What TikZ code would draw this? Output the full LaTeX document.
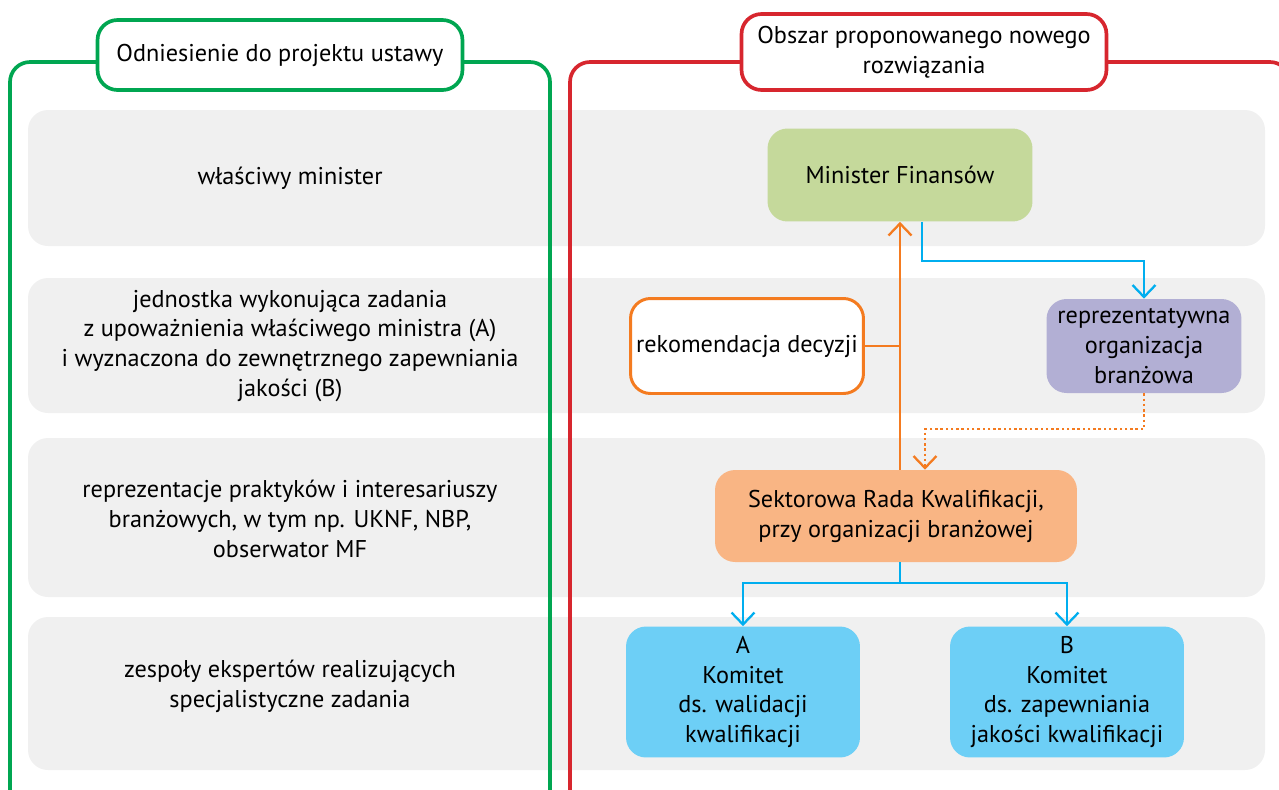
\documentclass[tikz,border=0pt]{standalone}
\usepackage{fontspec}
\setmainfont{PT Sans}
\usetikzlibrary{arrows.meta}
\definecolor{framegreen}{HTML}{00A651}
\definecolor{framered}{HTML}{D7262E}
\definecolor{bandgray}{HTML}{F0F0F0}
\definecolor{mfgreen}{HTML}{C5D99B}
\definecolor{recorange}{HTML}{F47B20}
\definecolor{orgviolet}{HTML}{B2AFD4}
\definecolor{srkorange}{HTML}{F9B584}
\definecolor{komblue}{HTML}{6DCFF6}
\definecolor{linkblue}{HTML}{00AEEF}
\begin{document}
\begin{tikzpicture}[x=0.02cm,y=-0.02cm,
  font=\fontsize{13.8pt}{17pt}\selectfont,
  band/.style={fill=bandgray, rounded corners=0.4cm},
  frame/.style={line width=2.1pt, rounded corners=0.4cm},
  titlebox/.style={fill=white, line width=2.1pt, rounded corners=0.4cm, align=center,
    minimum width=7.3cm},
  box/.style={rounded corners=0.4cm, align=center, inner sep=2pt},
  lbl/.style={align=center},
  link/.style={line width=1.3pt, -{Straight Barb[length=2.4mm,width=4.6mm,line width=1.3pt]}},
  plain/.style={line width=1.3pt}]
\clip (0,0) rectangle (1279,789);
% rows
\fill[band] (28,110) rectangle (1265,246);
\fill[band] (28,278) rectangle (1265,413);
\fill[band] (28,438) rectangle (1265,597);
\fill[band] (28,617) rectangle (1265,770);
% columns
\draw[frame, framegreen] (100,62) -- (10,62) -- (10,820);
\draw[frame, framegreen] (460,62) -- (550,62) -- (550,820);
\draw[frame, framered] (745,62) -- (570,62) -- (570,820);
\draw[frame, framered] (1105,62) -- (1290,62) -- (1290,820);
\node[titlebox, draw=framegreen, minimum height=1.4cm] (tleft) at (280,55)
  {Odniesienie do projektu ustawy};
\node[titlebox, draw=framered, minimum height=1.52cm] (tright) at (924,52)
  {Obszar proponowanego nowego\\rozwiązania};
% left column labels
\node[lbl] (l1) at (290,178) {właściwy minister};
\node[lbl] (l2) at (290,346) {jednostka wykonująca zadania\\z upoważnienia właściwego ministra (A)\\i wyznaczona do zewnętrznego zapewniania\\jakości (B)};
\node[lbl] (l3) at (290,519) {reprezentacje praktyków i interesariuszy\\branżowych, w tym np. UKNF, NBP,\\obserwator MF};
\node[lbl] (l4) at (290,686) {zespoły ekspertów realizujących\\specjalistyczne zadania};
% right column boxes
\node[box, fill=mfgreen, minimum width=5.3cm, minimum height=1.86cm] (mf) at (900,175) {Minister Finansów};
\node[box, draw=recorange, fill=white, line width=1.7pt, minimum width=4.66cm, minimum height=1.9cm] (rek) at (747,346) {rekomendacja decyzji};
\node[box, fill=orgviolet, minimum width=3.9cm, minimum height=1.88cm] (org) at (1144,346) {reprezentatywna\\organizacja\\branżowa};
\node[box, fill=srkorange, minimum width=7.24cm, minimum height=1.84cm] (srk) at (896,516) {Sektorowa Rada Kwalifikacji,\\przy organizacji branżowej};
\node[box, fill=komblue, minimum width=4.68cm, minimum height=2.62cm] (ka) at (743,692) {A\\Komitet\\ds. walidacji\\kwalifikacji};
\node[box, fill=komblue, minimum width=4.68cm, minimum height=2.62cm] (kb) at (1067,692) {B\\Komitet\\ds. zapewniania\\jakości kwalifikacji};
% connectors
\draw[link, recorange] (mf.south |- srk.north) -- (mf.south);
\draw[plain, recorange] (rek.east) -- (rek.east -| mf.south);
\draw[link, linkblue] ([xshift=0.44cm]mf.south) -- ++(0,39) -| (org.north);
\draw[link, recorange, dash pattern=on 1.4pt off 1.6pt] (org.south) -- ++(0,36) -| ([xshift=0.58cm]srk.north);
\draw[plain, linkblue] (srk.south -| mf.south) -- ++(0,21) coordinate (split);
\draw[link, linkblue] (split) -| (ka.north);
\draw[link, linkblue] (split) -| (kb.north);
\end{tikzpicture}
\end{document}
